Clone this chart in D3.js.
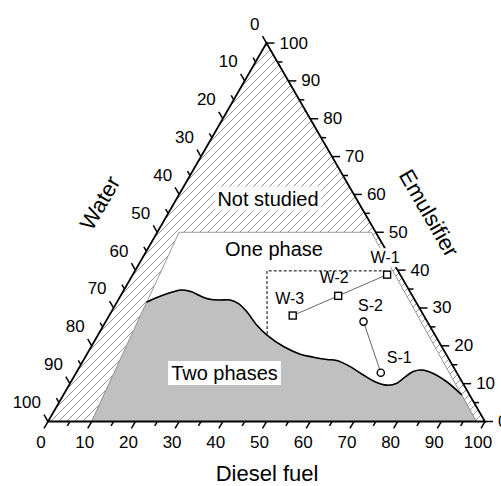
<!DOCTYPE html>
<html>
<head>
<meta charset="utf-8">
<script src="https://cdn.jsdelivr.net/npm/d3@7"></script>
<style>
  body { margin: 0; background: #fff; }
  text { font-family: "Liberation Sans", Arial, sans-serif; fill: #000; }
</style>
</head>
<body>
<div id="chart"></div>
<script>
// ternary values: diesel + emulsifier + water = 100
let ticks = d3.range(0, 101, 5);

// boundary of the two-phase region (diesel %, emulsifier %)
let boundaryDiesel = [6.8, 9.7, 13.2, 15.7, 18.2, 20.9, 23.3, 25.6, 27.9, 31.0, 35.0, 38.6, 44.0, 48.8,
    52.2, 55.6, 58.0, 61.9, 66.0, 69.6, 72.7, 74.8, 75.6, 77.0, 78.7, 81.8, 86.0, 91.2];
let boundaryEmulsifier = [31.5, 33.4, 34.75, 34.3, 33.2, 32.3, 32.1, 32.1, 31.2, 29.0, 25.5, 22.9, 19.8, 17.8,
    17.0, 16.4, 16.1, 14.5, 12.3, 10.5, 9.6, 10.1, 11.4, 13.2, 13.6, 12.7, 10.5, 7.0];

// studied area (rest of the triangle is "Not studied")
let studiedDiesel = [10, 5, 49, 98];
let studiedEmulsifier = [0, 50, 50, 0];

// samples
let sampleNames = ["W-1", "W-2", "W-3", "S-2", "S-1"];
let sampleDiesel = [58.2, 49.8, 42.0, 59.0, 69.7];
let sampleEmulsifier = [38.8, 33.2, 28.0, 26.4, 12.9];
let sampleShape = ["square", "square", "square", "circle", "circle"];
let sampleSeries = [["W-1", "W-2", "W-3"], ["S-2", "S-1"]];

// dashed guide
let guideDiesel = [38.6, 30.2, 57.2];
let guideEmulsifier = [23.1, 39.8, 39.8];

let width = 501, height = 486;
let ox = 48, oy = 421.5, side = 437;
let h = side * Math.sqrt(3) / 2;

let svg = d3.select("#chart")
    .append("svg")
    .attr("width", width)
    .attr("height", height);

let sideScale = d3.scaleLinear().domain([0, 100]).range([0, side]);
let yScale = d3.scaleLinear().domain([0, 100]).range([oy, oy - h]);

function proj(d, e) {
    return [ox + sideScale(d) + sideScale(e) / 2, yScale(e)];
}

let defs = svg.append("defs");
let pat = defs.append("pattern")
    .attr("id", "hatch")
    .attr("patternUnits", "userSpaceOnUse")
    .attr("width", 8)
    .attr("height", 8);
pat.append("path")
    .attr("d", "M0,8 L8,0 M-2,2 L2,-2 M6,10 L10,6")
    .style("stroke", "#8a8a8a")
    .style("stroke-width", 0.9);

// whole triangle hatched
let tri = [proj(0, 0), proj(100, 0), proj(0, 100)];
svg.append("path")
    .attr("d", "M" + tri.join("L") + "Z")
    .style("fill", "url(#hatch)");

// studied region
let studied = studiedDiesel.map((d, i) => proj(d, studiedEmulsifier[i]));
svg.append("path")
    .attr("d", "M" + studied.join("L"))
    .style("fill", "white")
    .style("stroke", "#999")
    .style("stroke-width", 1);

// two phase region
let boundary = boundaryDiesel.map((d, i) => proj(d, boundaryEmulsifier[i]));
let curve = d3.line().curve(d3.curveCatmullRom.alpha(0.5))(boundary);
svg.append("path")
    .attr("d", "M" + studied[0] + "L" + curve.slice(1) + "L" + studied[3] + "Z")
    .style("fill", "#c0c0c0")
    .style("stroke", "#999")
    .style("stroke-width", 1);
svg.append("path")
    .attr("d", curve)
    .style("fill", "none")
    .style("stroke", "black")
    .style("stroke-width", 1.6);

// dashed guide
let guide = guideDiesel.map((d, i) => proj(d, guideEmulsifier[i]));
svg.append("path")
    .attr("d", d3.line()(guide))
    .style("fill", "none")
    .style("stroke", "black")
    .style("stroke-width", 1)
    .style("stroke-dasharray", "3,2");

// sample connection lines
sampleSeries.forEach(series => {
    let pts = series.map(n => {
        let i = sampleNames.indexOf(n);
        return proj(sampleDiesel[i], sampleEmulsifier[i]);
    });
    svg.append("path")
        .attr("d", d3.line()(pts))
        .style("fill", "none")
        .style("stroke", "#555")
        .style("stroke-width", 0.9);
});

// axes
let axisG = svg.append("g");
axisG.append("path")
    .attr("d", "M" + tri.join("L") + "Z")
    .style("fill", "none")
    .style("stroke", "black")
    .style("stroke-width", 1.8)
    .style("stroke-linejoin", "miter");

let s3 = Math.sqrt(3) / 2;
ticks.forEach(v => {
    let len = v % 10 === 0 ? 8 : 5;
    // bottom: diesel
    let pb = proj(v, 0);
    axisG.append("line")
        .attr("x1", pb[0]).attr("y1", pb[1])
        .attr("x2", pb[0] - 0.5 * len).attr("y2", pb[1] + s3 * len)
        .style("stroke", "black").style("stroke-width", 1.5);
    // right: emulsifier
    let pr = proj(100 - v, v);
    axisG.append("line")
        .attr("x1", pr[0]).attr("y1", pr[1])
        .attr("x2", pr[0] + len).attr("y2", pr[1])
        .style("stroke", "black").style("stroke-width", 1.5);
    // left: water
    let pl = proj(0, 100 - v);
    axisG.append("line")
        .attr("x1", pl[0]).attr("y1", pl[1])
        .attr("x2", pl[0] - 0.5 * len).attr("y2", pl[1] - s3 * len)
        .style("stroke", "black").style("stroke-width", 1.5);

    if (v % 10 === 0) {
        axisG.append("text")
            .attr("x", pb[0] - 7).attr("y", pb[1] + 21)
            .attr("text-anchor", "middle")
            .attr("dominant-baseline", "central")
            .style("font-size", "17px")
            .text(v);
        axisG.append("text")
            .attr("x", pr[0] + 13).attr("y", pr[1])
            .attr("text-anchor", "start")
            .attr("dominant-baseline", "central")
            .style("font-size", "17px")
            .text(v);
        axisG.append("text")
            .attr("x", pl[0] - 7).attr("y", pl[1] - 19)
            .attr("text-anchor", "end")
            .attr("dominant-baseline", "central")
            .style("font-size", "17px")
            .text(v);
    }
});

// axis titles
svg.append("text")
    .attr("x", 267).attr("y", 481)
    .attr("text-anchor", "middle")
    .style("font-size", "22px")
    .text("Diesel fuel");
svg.append("text")
    .attr("transform", "translate(100,203) rotate(-60)")
    .attr("text-anchor", "middle")
    .attr("dominant-baseline", "central")
    .style("font-size", "22px")
    .text("Water");
svg.append("text")
    .attr("transform", "translate(429,213) rotate(60)")
    .attr("text-anchor", "middle")
    .attr("dominant-baseline", "central")
    .style("font-size", "22px")
    .text("Emulsifier");

// region labels
function boxLabel(x, y, txt, size, bg) {
    let t = svg.append("text")
        .attr("x", x).attr("y", y)
        .attr("text-anchor", "middle")
        .attr("dominant-baseline", "central")
        .style("font-size", size + "px")
        .text(txt);
    if (bg) {
        let b = t.node().getBBox();
        svg.insert("rect", function() { return t.node(); })
            .attr("x", b.x - 3).attr("y", b.y - 1)
            .attr("width", b.width + 6).attr("height", b.height + 2)
            .style("fill", "white");
    }
}
boxLabel(268, 198.5, "Not studied", 20, true);
boxLabel(274, 249, "One phase", 20, false);
boxLabel(224.5, 373, "Two phases", 20, true);

// sample markers
let labelOffsets = [[-2, -17], [-4, -18], [-3, -17.5], [7, -16], [18.5, -15]];
sampleNames.forEach((n, i) => {
    let p = proj(sampleDiesel[i], sampleEmulsifier[i]);
    if (sampleShape[i] === "square") {
        svg.append("rect")
            .attr("x", p[0] - 3.5).attr("y", p[1] - 3.5)
            .attr("width", 7).attr("height", 7)
            .style("fill", "white").style("stroke", "black").style("stroke-width", 1.4);
    } else {
        svg.append("circle")
            .attr("cx", p[0]).attr("cy", p[1]).attr("r", 3.6)
            .style("fill", "white").style("stroke", "black").style("stroke-width", 1.4);
    }
    boxLabel(p[0] + labelOffsets[i][0], p[1] + labelOffsets[i][1], n, 16, i === 0);
});
</script>
</body>
</html>
